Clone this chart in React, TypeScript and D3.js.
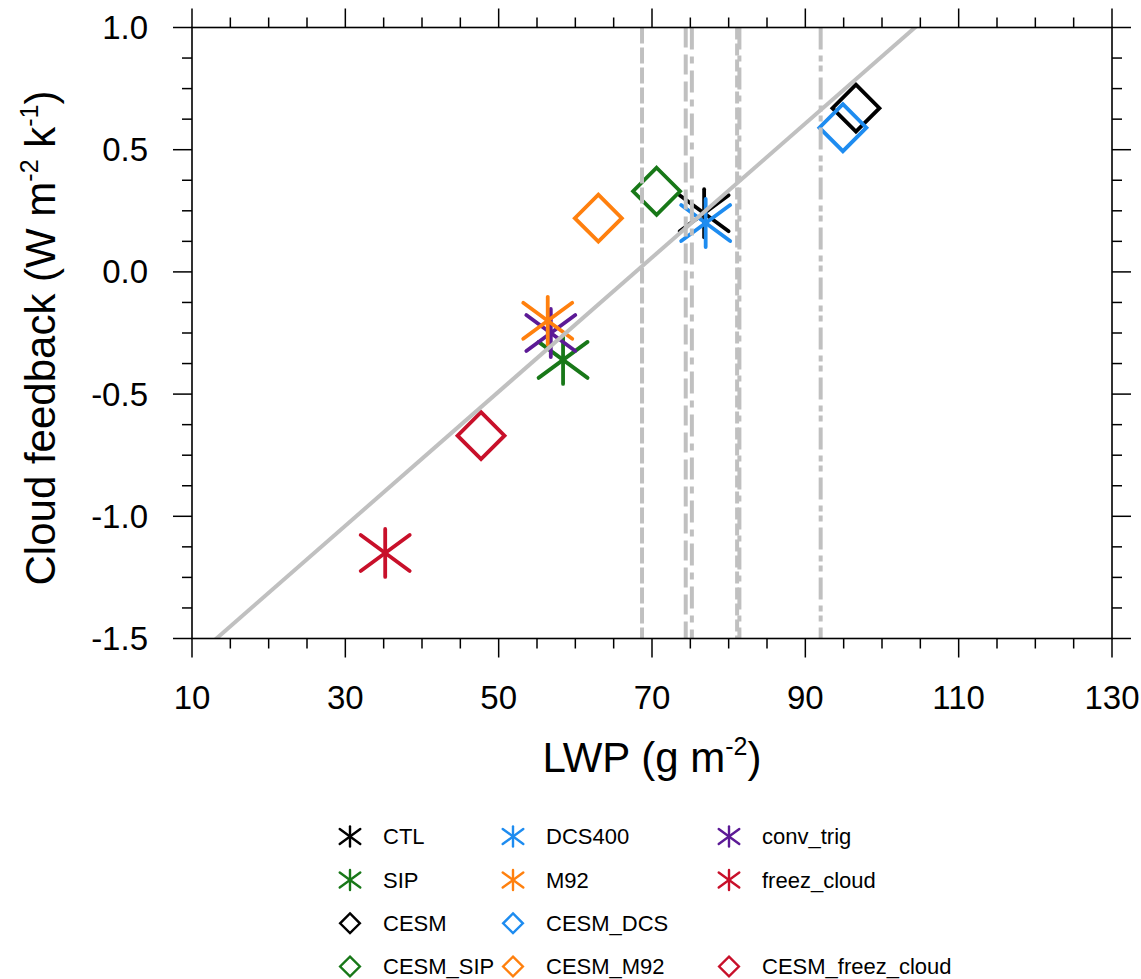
import React from 'react';
import * as d3 from 'd3';

// ---------- data ----------
const experiments = ['CTL', 'SIP', 'DCS400', 'conv_trig', 'M92', 'freez_cloud', 'CESM', 'CESM_SIP', 'CESM_DCS', 'CESM_M92', 'CESM_freez_cloud'];
const lwpValues = [76.8, 58.4, 77.0, 56.8, 56.4, 35.2, 96.6, 70.6, 94.9, 63.0, 47.7];
const feedbackValues = [0.24, -0.36, 0.2, -0.25, -0.2, -1.15, 0.67, 0.33, 0.59, 0.22, -0.67];

// observational LWP estimates (vertical reference lines)
const obsLwp = [68.7, 74.4, 75.2, 81.1, 81.4, 92.0];

// linear regression of feedback on LWP
const regSlope = 0.02744;
const regIntercept = -1.862;

const xTicks = [10, 30, 50, 70, 90, 110, 130];
const yTicks = [-1.5, -1.0, -0.5, 0.0, 0.5, 1.0];

const legendColumns = [
  ['CTL', 'SIP', 'CESM', 'CESM_SIP'],
  ['DCS400', 'M92', 'CESM_DCS', 'CESM_M92'],
  ['conv_trig', 'freez_cloud', null, 'CESM_freez_cloud'],
];

// ---------- styles ----------
const C = {
  black: '#000000',
  green: '#187818',
  blue: '#1e8cf0',
  orange: '#ff800e',
  purple: '#5c1a96',
  red: '#c8102a',
};
const markerStyle: Record<string, { color: string; shape: 'ast' | 'dia' }> = {
  CTL: { color: C.black, shape: 'ast' },
  SIP: { color: C.green, shape: 'ast' },
  DCS400: { color: C.blue, shape: 'ast' },
  conv_trig: { color: C.purple, shape: 'ast' },
  M92: { color: C.orange, shape: 'ast' },
  freez_cloud: { color: C.red, shape: 'ast' },
  CESM: { color: C.black, shape: 'dia' },
  CESM_SIP: { color: C.green, shape: 'dia' },
  CESM_DCS: { color: C.blue, shape: 'dia' },
  CESM_M92: { color: C.orange, shape: 'dia' },
  CESM_freez_cloud: { color: C.red, shape: 'dia' },
};
const obsDash = ['16,4', '20,7', '22,7,7,7', '12,4', '22,6,6,6', '22,6,6,4,6,6'];

const W = 1141;
const H = 979;
const L = 192, R = 1112, T = 27.5, B = 638.5;
const FONT = '"Liberation Sans", Arial, Helvetica, sans-serif';
const GRAY = '#c0c0c0';

const fmtY = (v: number) => d3.format('.1f')(v).replace('\u2212', '-');

function Marker({ shape, color, s, sw }: { shape: 'ast' | 'dia'; color: string; s: number; sw: number }) {
  if (shape === 'ast') {
    const v = 24 * s, dx = 24.5 * s, dy = 18 * s;
    return (
      <g stroke={color} strokeWidth={sw} strokeLinecap="round" fill="none">
        <line x1={0} y1={-v} x2={0} y2={v} />
        <line x1={-dx} y1={-dy} x2={dx} y2={dy} />
        <line x1={-dx} y1={dy} x2={dx} y2={-dy} />
      </g>
    );
  }
  const h = 23.5 * s;
  return (
    <path d={`M0,${-h}L${h},0L0,${h}L${-h},0Z`} stroke={color} strokeWidth={sw} fill="none" strokeLinejoin="miter" />
  );
}

export default function App() {
  const x = d3.scaleLinear().domain([10, 130]).range([L, R]);
  const y = d3.scaleLinear().domain([-1.5, 1.0]).range([B, T]);

  const xMinor = d3.range(10, 130.01, 5).filter((v) => !xTicks.includes(v));
  const yMinor = d3.range(0, 21).map((i) => -1.5 + i * 0.125).filter((v) => Math.abs((v * 2) - Math.round(v * 2)) > 1e-6);

  const regLine = d3.line<number>().x((v) => x(v)).y((v) => y(regSlope * v + regIntercept));
  const regX = [10, 130];

  const MAJ = 19, MIN = 10;
  const order = experiments.map((_, i) => i);

  const legX = [350, 513, 729];
  const legY = [836.5, 880, 923.3, 966.5];

  return (
    <svg width={W} height={H} style={{ position: 'absolute', left: 0, top: 0, background: '#fff' }} fontFamily={FONT}>
      <defs>
        <clipPath id="plot">
          <rect x={L} y={T} width={R - L} height={B - T} />
        </clipPath>
      </defs>
      <rect x={0} y={0} width={W} height={H} fill="#fff" />

      {/* markers */}
      <g>
        {order.map((i) => {
          const st = markerStyle[experiments[i]];
          return (
            <g key={experiments[i]} transform={`translate(${x(lwpValues[i])},${y(feedbackValues[i])})`}>
              <Marker shape={st.shape} color={st.color} s={1} sw={3.8} />
            </g>
          );
        })}
      </g>

      {/* reference lines */}
      <g clipPath="url(#plot)">
        {obsLwp.map((v, i) => (
          <line key={i} x1={x(v)} x2={x(v)} y1={T} y2={B} stroke={GRAY} strokeWidth={4} strokeDasharray={obsDash[i]} />
        ))}
        <path d={regLine(regX) || ''} stroke={GRAY} strokeWidth={4} fill="none" />
      </g>

      {/* frame */}
      <rect x={L} y={T} width={R - L} height={B - T} fill="none" stroke="#000" strokeWidth={1.6} />

      {/* ticks */}
      <g stroke="#000" strokeWidth={1.5}>
        {xTicks.map((v) => (
          <g key={'xt' + v}>
            <line x1={x(v)} x2={x(v)} y1={B} y2={B + MAJ} />
            <line x1={x(v)} x2={x(v)} y1={T} y2={T - MAJ} />
          </g>
        ))}
        {xMinor.map((v) => (
          <g key={'xm' + v}>
            <line x1={x(v)} x2={x(v)} y1={B} y2={B + MIN} />
            <line x1={x(v)} x2={x(v)} y1={T} y2={T - MIN} />
          </g>
        ))}
        {yTicks.map((v) => (
          <g key={'yt' + v}>
            <line x1={L} x2={L - MAJ} y1={y(v)} y2={y(v)} />
            <line x1={R} x2={R + MAJ} y1={y(v)} y2={y(v)} />
          </g>
        ))}
        {yMinor.map((v) => (
          <g key={'ym' + v}>
            <line x1={L} x2={L - MIN} y1={y(v)} y2={y(v)} />
            <line x1={R} x2={R + MIN} y1={y(v)} y2={y(v)} />
          </g>
        ))}
      </g>

      {/* tick labels */}
      <g fontSize={33} fill="#000">
        {xTicks.map((v) => (
          <text key={'xl' + v} x={x(v)} y={709} textAnchor="middle">{String(v)}</text>
        ))}
        {yTicks.map((v) => (
          <text key={'yl' + v} x={148} y={y(v)} textAnchor="end" dominantBaseline="central">{fmtY(v)}</text>
        ))}
      </g>

      {/* axis titles */}
      <text x={(L + R) / 2} y={772} textAnchor="middle" fontSize={42}>
        LWP (g m<tspan fontSize={25} dy={-17}>-2</tspan><tspan dy={17}>)</tspan>
      </text>
      <text transform={`translate(55,${(T + B) / 2 + 5}) rotate(-90)`} textAnchor="middle" fontSize={42}>
        Cloud feedback (W m<tspan fontSize={25} dy={-17}>-2</tspan><tspan dy={17}> k</tspan><tspan fontSize={25} dy={-17}>-1</tspan><tspan dy={17}>)</tspan>
      </text>

      {/* legend */}
      <g>
        {legendColumns.map((col, ci) =>
          col.map((name, ri) => {
            if (!name) return null;
            const st = markerStyle[name];
            return (
              <g key={name}>
                <g transform={`translate(${legX[ci]},${legY[ri]})`}>
                  <Marker shape={st.shape} color={st.color} s={0.42} sw={2.4} />
                </g>
                <text x={legX[ci] + 33} y={legY[ri]} dominantBaseline="central" fontSize={22} fill="#000">{name}</text>
              </g>
            );
          })
        )}
      </g>
    </svg>
  );
}
